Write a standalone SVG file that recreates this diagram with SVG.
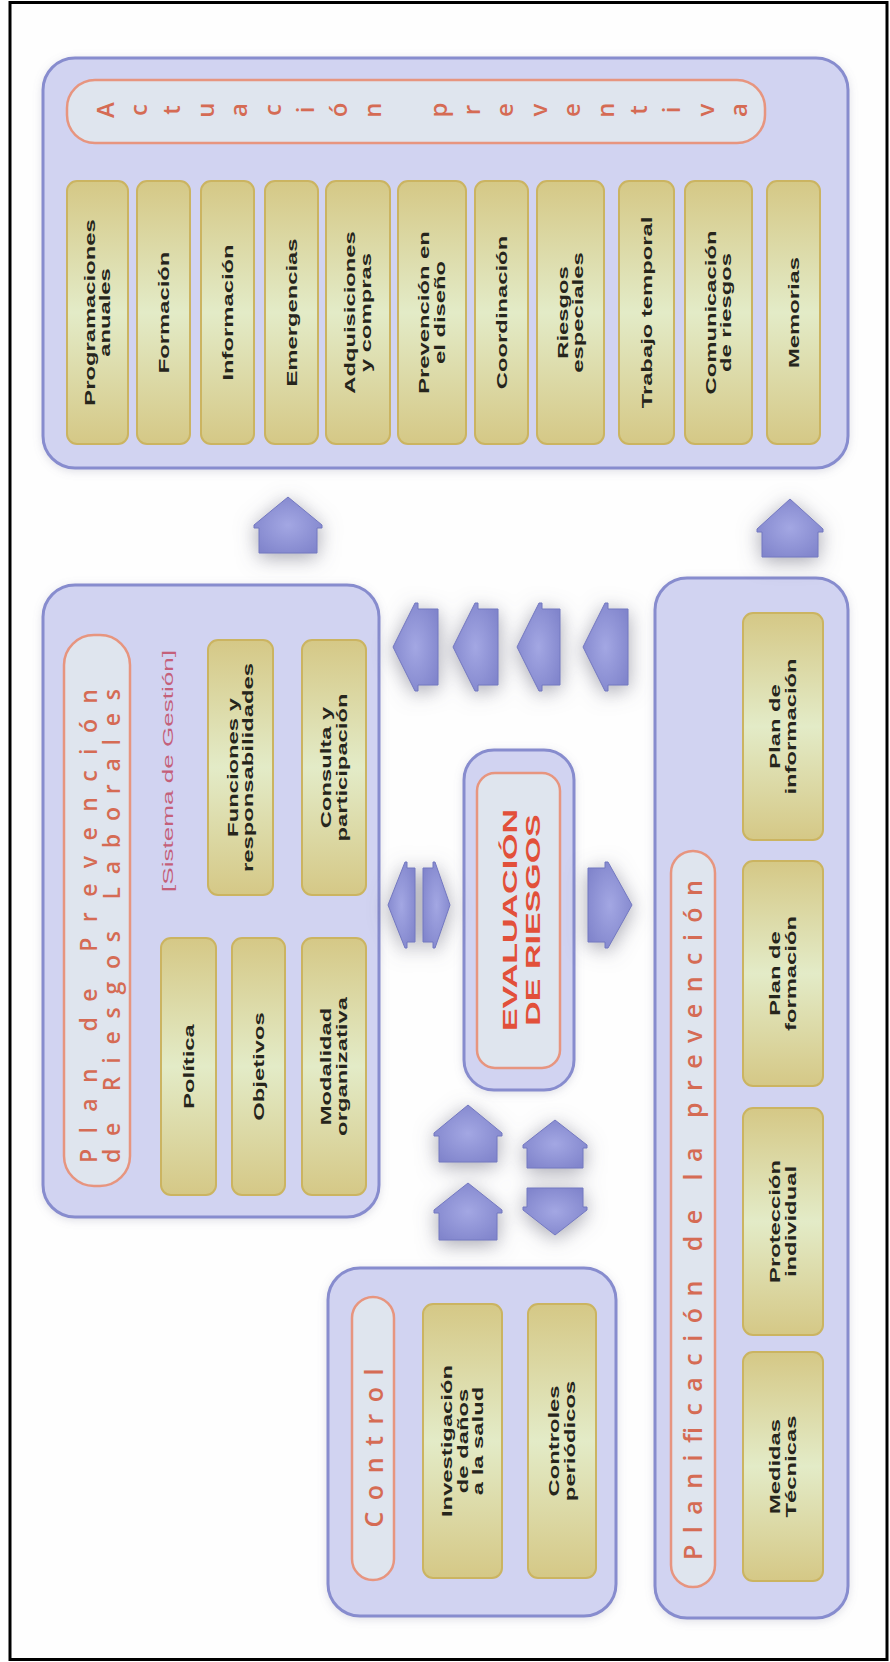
<svg xmlns="http://www.w3.org/2000/svg" width="890" height="1662" viewBox="0 0 890 1662">
  <defs>
    <linearGradient id="gItem" x1="0" y1="0" x2="0" y2="1">
      <stop offset="0" stop-color="#d5c886"/>
      <stop offset="0.5" stop-color="#e3ebc7"/>
      <stop offset="1" stop-color="#d5c886"/>
    </linearGradient>
    <radialGradient id="gArrow" cx="0.5" cy="0.5" r="0.6">
      <stop offset="0" stop-color="#a3a7e3"/>
      <stop offset="1" stop-color="#8185cc"/>
    </radialGradient>
    <filter id="halo" x="-60%" y="-60%" width="220%" height="220%">
      <feGaussianBlur in="SourceAlpha" stdDeviation="10" result="b"/>
      <feOffset in="b" dy="4" result="o"/>
      <feFlood flood-color="#6a6a7c" flood-opacity="0.6"/>
      <feComposite in2="o" operator="in" result="s"/>
      <feMerge><feMergeNode in="s"/><feMergeNode in="SourceGraphic"/></feMerge>
    </filter>
    <filter id="soft" x="-10%" y="-10%" width="120%" height="120%">
      <feGaussianBlur in="SourceAlpha" stdDeviation="4" result="b"/>
      <feOffset in="b" dy="2" result="o"/>
      <feFlood flood-color="#8080a0" flood-opacity="0.25"/>
      <feComposite in2="o" operator="in" result="s"/>
      <feMerge><feMergeNode in="s"/><feMergeNode in="SourceGraphic"/></feMerge>
    </filter>
    <style>
      .panel { fill: #d1d3f1; stroke: #878cce; stroke-width: 3; }
      .bar { fill: #dfe5ee; stroke: #e7957f; stroke-width: 2.5; }
      .item { fill: url(#gItem); stroke: #cbb461; stroke-width: 2; }
      .arrow { fill: url(#gArrow); stroke: #7378c0; stroke-width: 1; }
      .lbl { font-family: "Liberation Sans", Arial, sans-serif; font-weight: bold; font-size: 14px; fill: #26251c; text-anchor: middle; }
      .ttl { font-family: "Open Sans", "DejaVu Sans", sans-serif; font-weight: 600; fill: #d56b54; text-anchor: middle; }
      .big { font-family: "Liberation Sans", Arial, sans-serif; font-weight: bold; font-size: 20px; fill: #e2503a; text-anchor: middle; }
      .sub { font-family: "Liberation Sans", Arial, sans-serif; font-size: 14px; fill: #c4607a; text-anchor: middle; }
    </style>
  </defs>

  <!-- frame -->
  <rect x="10" y="2.5" width="877" height="1657" fill="#fefefe" stroke="#000" stroke-width="3"/>

  <!-- Actuación preventiva -->
  <g id="actuacion">
    <rect class="panel" x="43" y="58" width="805" height="410" rx="32" filter="url(#soft)"/>
    <rect class="bar" x="67" y="80" width="698" height="63" rx="28"/>
    <g class="ttl" font-size="24">
      <text transform="translate(105 110) rotate(-90)" y="8.5">A</text>
      <text transform="translate(138.4 110) rotate(-90)" y="8.5">c</text>
      <text transform="translate(171.8 110) rotate(-90)" y="8.5">t</text>
      <text transform="translate(205.2 110) rotate(-90)" y="8.5">u</text>
      <text transform="translate(238.6 110) rotate(-90)" y="8.5">a</text>
      <text transform="translate(272 110) rotate(-90)" y="8.5">c</text>
      <text transform="translate(305.4 110) rotate(-90)" y="8.5">i</text>
      <text transform="translate(338.8 110) rotate(-90)" y="8.5">ó</text>
      <text transform="translate(372.2 110) rotate(-90)" y="8.5">n</text>
      <text transform="translate(438 110) rotate(-90)" y="8.5">p</text>
      <text transform="translate(471.4 110) rotate(-90)" y="8.5">r</text>
      <text transform="translate(504.8 110) rotate(-90)" y="8.5">e</text>
      <text transform="translate(538.2 110) rotate(-90)" y="8.5">v</text>
      <text transform="translate(571.6 110) rotate(-90)" y="8.5">e</text>
      <text transform="translate(605 110) rotate(-90)" y="8.5">n</text>
      <text transform="translate(638.4 110) rotate(-90)" y="8.5">t</text>
      <text transform="translate(671.8 110) rotate(-90)" y="8.5">i</text>
      <text transform="translate(705.2 110) rotate(-90)" y="8.5">v</text>
      <text transform="translate(738.6 110) rotate(-90)" y="8.5">a</text>
    </g>
  </g>
  <g id="a-programaciones"><rect class="item" x="67" y="181" width="61" height="263" rx="10"/>
    <g transform="translate(97.5 312.5) rotate(-90) scale(1.7 1)"><text class="lbl"><tspan x="0" y="-3">Programaciones</tspan><tspan x="0" y="13">anuales</tspan></text></g></g>
  <g id="a-formacion"><rect class="item" x="137" y="181" width="53" height="263" rx="10"/>
    <g transform="translate(163.5 312.5) rotate(-90) scale(1.7 1)"><text class="lbl" y="5">Formación</text></g></g>
  <g id="a-informacion"><rect class="item" x="201" y="181" width="53" height="263" rx="10"/>
    <g transform="translate(227.5 312.5) rotate(-90) scale(1.7 1)"><text class="lbl" y="5">Información</text></g></g>
  <g id="a-emergencias"><rect class="item" x="265" y="181" width="53" height="263" rx="10"/>
    <g transform="translate(291.5 312.5) rotate(-90) scale(1.7 1)"><text class="lbl" y="5">Emergencias</text></g></g>
  <g id="a-adquisiciones"><rect class="item" x="326" y="181" width="64" height="263" rx="10"/>
    <g transform="translate(358 312.5) rotate(-90) scale(1.7 1)"><text class="lbl"><tspan x="0" y="-3">Adquisiciones</tspan><tspan x="0" y="13">y compras</tspan></text></g></g>
  <g id="a-diseno"><rect class="item" x="398" y="181" width="68" height="263" rx="10"/>
    <g transform="translate(432 312.5) rotate(-90) scale(1.7 1)"><text class="lbl"><tspan x="0" y="-3">Prevención en</tspan><tspan x="0" y="13">el diseño</tspan></text></g></g>
  <g id="a-coordinacion"><rect class="item" x="475" y="181" width="53" height="263" rx="10"/>
    <g transform="translate(501.5 312.5) rotate(-90) scale(1.7 1)"><text class="lbl" y="5">Coordinación</text></g></g>
  <g id="a-riesgos"><rect class="item" x="537" y="181" width="67" height="263" rx="10"/>
    <g transform="translate(570.5 312.5) rotate(-90) scale(1.7 1)"><text class="lbl"><tspan x="0" y="-3">Riesgos</tspan><tspan x="0" y="13">especiales</tspan></text></g></g>
  <g id="a-trabajo"><rect class="item" x="619" y="181" width="55" height="263" rx="10"/>
    <g transform="translate(646.5 312.5) rotate(-90) scale(1.7 1)"><text class="lbl" y="5">Trabajo temporal</text></g></g>
  <g id="a-comunicacion"><rect class="item" x="685" y="181" width="67" height="263" rx="10"/>
    <g transform="translate(718.5 312.5) rotate(-90) scale(1.7 1)"><text class="lbl"><tspan x="0" y="-3">Comunicación</tspan><tspan x="0" y="13">de riesgos</tspan></text></g></g>
  <g id="a-memorias"><rect class="item" x="767" y="181" width="53" height="263" rx="10"/>
    <g transform="translate(793.5 312.5) rotate(-90) scale(1.7 1)"><text class="lbl" y="5">Memorias</text></g></g>

  <!-- Plan de Prevención de Riesgos Laborales -->
  <g id="plan">
    <rect class="panel" x="43" y="585" width="336" height="632" rx="32" filter="url(#soft)"/>
    <rect class="bar" x="64" y="635" width="66" height="551" rx="30"/>
    <g transform="translate(97 926) rotate(-90)">
      <text class="ttl" font-size="23" y="0" textLength="474" lengthAdjust="spacing">Plan de Prevención</text>
      <text class="ttl" font-size="23" y="23" textLength="474" lengthAdjust="spacing">de Riesgos Laborales</text>
    </g>
    <g transform="translate(168 771) rotate(-90)"><text class="sub" y="5" textLength="242" lengthAdjust="spacingAndGlyphs">[Sistema de Gestión]</text></g>
  </g>
  <g id="p-funciones"><rect class="item" x="208" y="640" width="65" height="255" rx="10"/>
    <g transform="translate(240.5 767.5) rotate(-90) scale(1.7 1)"><text class="lbl"><tspan x="0" y="-3">Funciones y</tspan><tspan x="0" y="13">responsabilidades</tspan></text></g></g>
  <g id="p-consulta"><rect class="item" x="302" y="640" width="64" height="255" rx="10"/>
    <g transform="translate(334 767.5) rotate(-90) scale(1.7 1)"><text class="lbl"><tspan x="0" y="-3">Consulta y</tspan><tspan x="0" y="13">participación</tspan></text></g></g>
  <g id="p-politica"><rect class="item" x="161" y="938" width="55" height="257" rx="10"/>
    <g transform="translate(188.5 1066.5) rotate(-90) scale(1.7 1)"><text class="lbl" y="5">Política</text></g></g>
  <g id="p-objetivos"><rect class="item" x="232" y="938" width="53" height="257" rx="10"/>
    <g transform="translate(258.5 1066.5) rotate(-90) scale(1.7 1)"><text class="lbl" y="5">Objetivos</text></g></g>
  <g id="p-modalidad"><rect class="item" x="302" y="938" width="64" height="257" rx="10"/>
    <g transform="translate(334 1066.5) rotate(-90) scale(1.7 1)"><text class="lbl"><tspan x="0" y="-3">Modalidad</tspan><tspan x="0" y="13">organizativa</tspan></text></g></g>

  <!-- Evaluación de riesgos -->
  <g id="evaluacion">
    <rect class="panel" x="464" y="750" width="110" height="340" rx="30" filter="url(#soft)"/>
    <rect class="bar" x="477" y="773" width="83" height="295" rx="18" stroke-width="2"/>
    <g transform="translate(519 920) rotate(-90) scale(1.7 1)">
      <text class="big"><tspan x="0" y="-2">EVALUACIÓN</tspan><tspan x="0" y="21">DE RIESGOS</tspan></text>
    </g>
  </g>

  <!-- Planificación de la prevención -->
  <g id="planificacion">
    <rect class="panel" x="655" y="578" width="193" height="1040" rx="32" filter="url(#soft)"/>
    <rect class="bar" x="671" y="851" width="44" height="736" rx="22"/>
    <g transform="translate(693 1220) rotate(-90)"><text class="ttl" font-size="25" y="8.5" textLength="680" lengthAdjust="spacing">Planificación de la prevención</text></g>
  </g>
  <g id="pl-informacion"><rect class="item" x="743" y="613" width="80" height="227" rx="10"/>
    <g transform="translate(783 726.5) rotate(-90) scale(1.7 1)"><text class="lbl"><tspan x="0" y="-3">Plan de</tspan><tspan x="0" y="13">información</tspan></text></g></g>
  <g id="pl-formacion"><rect class="item" x="743" y="861" width="80" height="225" rx="10"/>
    <g transform="translate(783 973.5) rotate(-90) scale(1.7 1)"><text class="lbl"><tspan x="0" y="-3">Plan de</tspan><tspan x="0" y="13">formación</tspan></text></g></g>
  <g id="pl-proteccion"><rect class="item" x="743" y="1108" width="80" height="227" rx="10"/>
    <g transform="translate(783 1221.5) rotate(-90) scale(1.7 1)"><text class="lbl"><tspan x="0" y="-3">Protección</tspan><tspan x="0" y="13">individual</tspan></text></g></g>
  <g id="pl-medidas"><rect class="item" x="743" y="1352" width="80" height="229" rx="10"/>
    <g transform="translate(783 1466.5) rotate(-90) scale(1.7 1)"><text class="lbl"><tspan x="0" y="-3">Medidas</tspan><tspan x="0" y="13">Técnicas</tspan></text></g></g>

  <!-- Control -->
  <g id="control">
    <rect class="panel" x="328" y="1268" width="288" height="348" rx="32" filter="url(#soft)"/>
    <rect class="bar" x="352" y="1297" width="42" height="283" rx="21"/>
    <g transform="translate(374 1448) rotate(-90)"><text class="ttl" font-size="25" y="8.5" textLength="159" lengthAdjust="spacing">Control</text></g>
  </g>
  <g id="c-investigacion"><rect class="item" x="423" y="1304" width="79" height="274" rx="10"/>
    <g transform="translate(462.5 1441) rotate(-90) scale(1.7 1)"><text class="lbl"><tspan x="0" y="-11">Investigación</tspan><tspan x="0" y="5">de daños</tspan><tspan x="0" y="21">a la salud</tspan></text></g></g>
  <g id="c-controles"><rect class="item" x="528" y="1304" width="68" height="274" rx="10"/>
    <g transform="translate(562 1441) rotate(-90) scale(1.7 1)"><text class="lbl"><tspan x="0" y="-3">Controles</tspan><tspan x="0" y="13">periódicos</tspan></text></g></g>

  <!-- connectors -->
  <g id="connectors">
    <g filter="url(#halo)">
      <path class="arrow" d="M288 497 L322 525 L322 528 L317 528 L317 553 L259 553 L259 528 L254 528 L254 525 Z"/>
    </g>
    <g filter="url(#halo)">
      <path class="arrow" d="M790 499 L823 529 L823 532 L818 532 L818 557 L762 557 L762 532 L757 532 L757 529 Z"/>
    </g>
    <g filter="url(#halo)">
      <path class="arrow" d="M393 647 L415 603 L418 603 L418 609 L438 609 L438 685 L418 685 L418 691 L415 691 Z"/>
      <path class="arrow" d="M453 647 L475 603 L478 603 L478 609 L498 609 L498 685 L478 685 L478 691 L475 691 Z"/>
      <path class="arrow" d="M517 647 L539 603 L542 603 L542 609 L560 609 L560 685 L542 685 L542 691 L539 691 Z"/>
      <path class="arrow" d="M583 647 L605 603 L608 603 L608 609 L628 609 L628 685 L608 685 L608 691 L605 691 Z"/>
    </g>
    <g filter="url(#halo)">
      <path class="arrow" d="M388 905 L405 862 L407 862 L407 868 L415 868 L415 942 L407 942 L407 948 L405 948 Z"/>
      <path class="arrow" d="M450 905 L435 862 L433 862 L433 868 L423 868 L423 942 L433 942 L433 948 L435 948 Z"/>
    </g>
    <g filter="url(#halo)">
      <path class="arrow" d="M632 905 L608 862 L605 862 L605 868 L588 868 L588 942 L605 942 L605 948 L608 948 Z"/>
    </g>
    <g filter="url(#halo)">
      <path class="arrow" d="M468 1105 L502 1133 L502 1136 L497 1136 L497 1162 L439 1162 L439 1136 L434 1136 L434 1133 Z"/>
      <path class="arrow" d="M468 1183 L502 1210 L502 1213 L497 1213 L497 1240 L439 1240 L439 1213 L434 1213 L434 1210 Z"/>
      <path class="arrow" d="M555 1120 L587 1145 L587 1148 L583 1148 L583 1168 L527 1168 L527 1148 L523 1148 L523 1145 Z"/>
      <path class="arrow" d="M555 1235 L587 1210 L587 1207 L583 1207 L583 1188 L527 1188 L527 1207 L523 1207 L523 1210 Z"/>
    </g>
  </g>
</svg>
